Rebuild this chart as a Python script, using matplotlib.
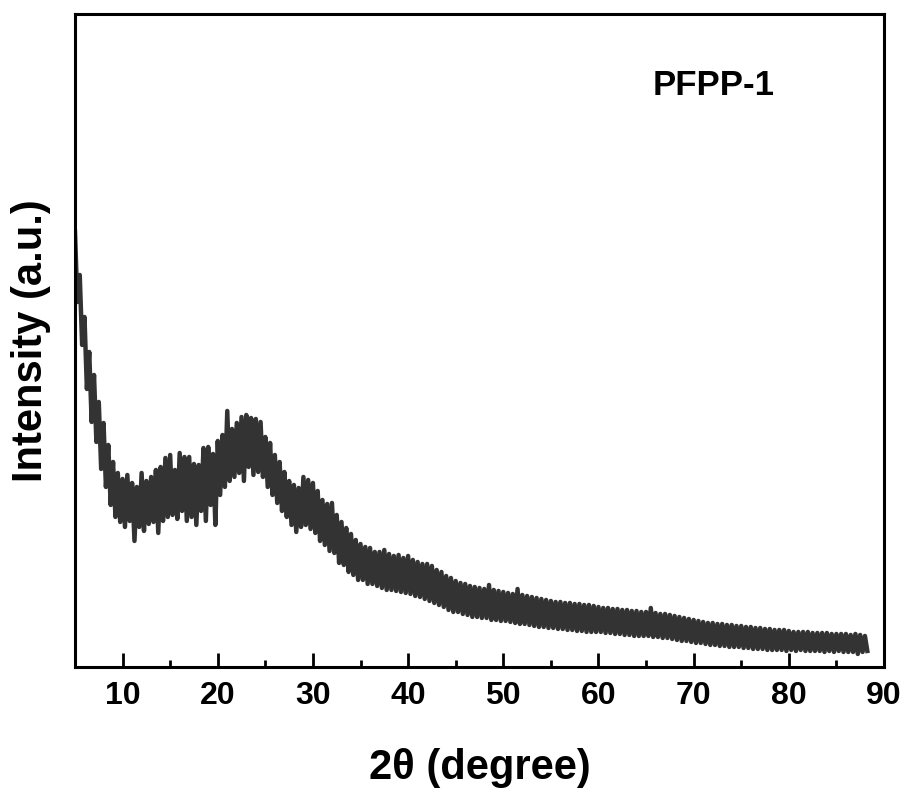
import matplotlib
matplotlib.use("Agg")
import matplotlib.pyplot as plt
import numpy as np
from matplotlib.ticker import MultipleLocator

plt.rcParams["font.family"] = ["Liberation Sans", "DejaVu Sans"]
plt.rcParams["font.weight"] = "bold"

# XRD trace, 0.25 deg steps starting at 2theta = 5
start_2theta = 5.0
step_2theta = 0.25
intensity = [
    435, 365, 392, 322,  # 5
    350, 278, 315, 245,  # 6
    292, 225, 265, 198,  # 7
    244, 180, 222, 162,  # 8
    205, 150, 194, 145,  # 9
    188, 140, 192, 146,  # 10
    184, 126, 180, 140,  # 11
    194, 136, 186, 143,  # 12
    190, 145, 197, 134,  # 13
    200, 146, 209, 150,  # 14
    212, 152, 197, 148,  # 15
    214, 156, 210, 146,  # 16
    210, 150, 203, 142,  # 17
    202, 156, 219, 146,  # 18
    220, 162, 213, 142,  # 19
    226, 172, 232, 180,  # 20
    256, 186, 238, 190,  # 21
    244, 194, 250, 186,  # 22
    252, 200, 249, 192,  # 23
    248, 195, 245, 190,  # 24
    230, 180, 224, 172,  # 25
    212, 164, 205, 156,  # 26
    195, 150, 186, 142,  # 27
    182, 135, 179, 140,  # 28
    190, 142, 187, 138,  # 29
    184, 134, 176, 126,  # 30
    167, 122, 163, 116,  # 31
    164, 114, 152, 104,  # 32
    145, 102, 139, 95,  # 33
    133, 92, 127, 87,  # 34
    123, 87, 120, 83,  # 35
    119, 83, 115, 81,  # 36
    115, 79, 117, 77,  # 37
    113, 77, 111, 76,  # 38
    112, 75, 109, 74,  # 39
    111, 73, 107, 71,  # 40
    105, 70, 103, 68,  # 41
    103, 66, 101, 64,  # 42
    97, 62, 95, 60,  # 43
    91, 57, 89, 55,  # 44
    86, 55, 84, 53,  # 45
    83, 52, 81, 50,  # 46
    80, 50, 79, 49,  # 47
    78, 49, 82, 47,  # 48
    77, 47, 76, 46,  # 49
    75, 46, 74, 45,  # 50
    73, 44, 78, 43,  # 51
    72, 43, 71, 42,  # 52
    70, 41, 69, 40,  # 53
    68, 40, 67, 39,  # 54
    66, 39, 65, 38,  # 55
    65, 38, 64, 37,  # 56
    64, 37, 63, 36,  # 57
    63, 36, 62, 35,  # 58
    62, 35, 61, 35,  # 59
    60, 35, 59, 34,  # 60
    59, 34, 58, 33,  # 61
    58, 33, 57, 32,  # 62
    57, 32, 56, 31,  # 63
    56, 31, 55, 31,  # 64
    55, 31, 59, 30,  # 65
    54, 30, 53, 29,  # 66
    53, 29, 52, 28,  # 67
    51, 27, 50, 26,  # 68
    49, 26, 48, 25,  # 69
    47, 24, 46, 24,  # 70
    45, 23, 44, 22,  # 71
    44, 22, 43, 21,  # 72
    43, 21, 42, 20,  # 73
    42, 20, 41, 20,  # 74
    41, 19, 40, 19,  # 75
    40, 18, 39, 18,  # 76
    39, 18, 38, 17,  # 77
    38, 17, 37, 17,  # 78
    37, 17, 37, 16,  # 79
    36, 17, 35, 16,  # 80
    35, 17, 35, 16,  # 81
    35, 16, 34, 16,  # 82
    34, 16, 34, 15,  # 83
    34, 16, 33, 15,  # 84
    33, 16, 33, 15,  # 85
    33, 15, 32, 15,  # 86
    33, 13, 32, 15,  # 87
    31, 16,  # 88
]
two_theta = start_2theta + step_2theta * np.arange(len(intensity))

sample_name = "PFPP-1"
x_ticks = [10, 20, 30, 40, 50, 60, 70, 80, 90]

fig = plt.figure(figsize=(9.1, 7.94), dpi=100)
ax = fig.add_axes([0.0824, 0.16, 0.889, 0.8224])

ax.plot(two_theta, intensity, color="#333333", lw=3.2)

ax.set_xlim(5, 90)
ax.set_ylim(0, 653)
ax.set_xticks(x_ticks)
ax.xaxis.set_minor_locator(MultipleLocator(5))
ax.set_yticks([])

for s in ax.spines.values():
    s.set_linewidth(2.2)
ax.tick_params(axis="x", which="major", direction="in", length=10, width=2,
               labelsize=23, pad=10)
ax.tick_params(axis="x", which="minor", direction="in", length=5, width=2)
for lbl in ax.get_xticklabels():
    lbl.set_fontweight("bold")

ax.set_xlabel("2θ (degree)", fontsize=30, fontweight="bold")
ax.xaxis.set_label_coords(0.5, -0.124)
ax.set_ylabel("Intensity (a.u.)", fontsize=30, fontweight="bold")
ax.yaxis.set_label_coords(-0.03, 0.5)

ax.text(0.789, 0.89, sample_name, transform=ax.transAxes, fontsize=25,
        fontweight="bold", ha="center", va="center")

fig.savefig("out.png", dpi=100)
